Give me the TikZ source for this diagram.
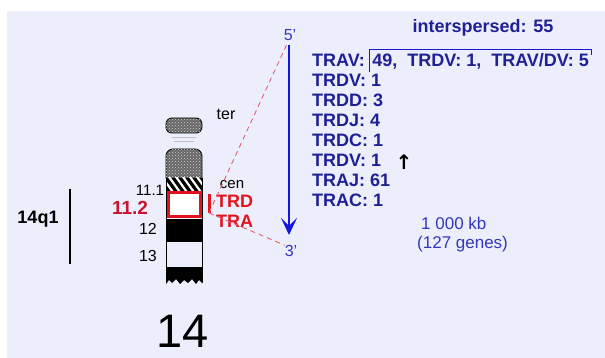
\documentclass[tikz,border=0pt]{standalone}
\usepackage{fontspec}
\setmainfont{Liberation Sans}
\newfontfamily\symfont{DejaVu Sans}
\usetikzlibrary{positioning}
\usetikzlibrary{arrows.meta}
\usetikzlibrary{patterns}

\definecolor{paper}{RGB}{236,238,251}
\definecolor{navy}{RGB}{30,32,150}
\definecolor{locusblue}{RGB}{22,22,225}
\definecolor{primeblue}{RGB}{50,55,190}
\definecolor{bandred}{RGB}{225,20,30}
\definecolor{darkred}{RGB}{200,20,50}
\definecolor{linkred}{RGB}{228,95,115}

\newcommand{\fs}[1]{\fontsize{#1}{#1}\selectfont}

\begin{document}
\begin{tikzpicture}
        [x=1pt, y=-1pt,
         every node/.style={inner sep=0pt},
         gene/.style={anchor=west, text=navy, font=\fs{18}\bfseries,
                      text height=13pt, text depth=4pt},
         prime/.style={text=primeblue, font=\fs{16}},
         band/.style={draw=black, line width=0.9pt},
         knob/.style={band, fill=black!60,
                      postaction={pattern=crosshatch dots, pattern color=black!15}},
         link/.style={dashed, linkred, line width=0.9pt, dash pattern=on 5pt off 4pt}]
        % background
        \fill [white] (0,0) rectangle (605,358);
        \fill [paper] (7,11) rectangle (605,358);
        \useasboundingbox (0,0) rectangle (605,358);

        % chromosome 14
        \draw [knob, rounded corners=6pt] (166,118) rectangle (202,133);
        \draw [black!25, line width=1pt] (172,138) -- (196,138) (174,142) -- (194,142);
        \draw [knob] (166,178) [rounded corners=7pt] -- (166,149) -- (202,149)
              [sharp corners] -- (202,178) -- cycle;
        \fill [black] (166,178) rectangle (202,191);
        \begin{scope}
            \clip (166,178) rectangle (202,191);
            \foreach \s in {-14,-7,...,42}
                \draw [white, line width=2.2pt] (160+\s,174) -- (175+\s,195);
        \end{scope}
        \fill [black] (166,219) rectangle (202,242);
        \fill [black] (166,267) -- (202,267) -- (202,283) -- (199,280) -- (196,284)
              -- (192,279) -- (188,283) -- (184,280) -- (180,284) -- (176,279)
              -- (172,283) -- (169,280) -- (166,284) -- cycle;
        \draw [band] (166,178) -- (166,283) (202,178) -- (202,283);
        \draw [bandred, line width=3pt, fill=white] (168,192.5) rectangle (200.5,217);

        % band labels
        \node [font=\fs{16}] (ter) at (226,114) {ter};
        \node [font=\fs{15}] (cen) at (232,185) {cen};
        \node [font=\fs{15}] (q111) at (150,190) {11.1};
        \node [font=\fs{19}\bfseries, text=darkred] (q112) at (130,208) {11.2};
        \node [font=\fs{16}] (q12) at (148,229) {12};
        \node [font=\fs{16}] (q13) at (148,256) {13};
        \node [font=\fs{18}\bfseries] (q1) at (38,219) {14q1};
        \draw [line width=1.2pt] (70,189) -- (70,264);
        \node [font=\fs{47}] (chr) at (183,331) {14};

        % TRA/TRD locus
        \coordinate (bartop) at (209,194);
        \coordinate (barbot) at (209,213);
        \draw [bandred, line width=3pt] (bartop) -- (barbot);
        \node [anchor=west, text=bandred, font=\fs{18}\bfseries] (trd) at (216,201) {TRD};
        \node [anchor=west, text=bandred, font=\fs{18}\bfseries] (tra) at (216,221) {TRA};

        \node [prime] (five) at (290,35) {5'};
        \node [prime] (three) at (291,251) {3'};
        \draw [link] (barbot) -- (287,44);
        \draw [link] (barbot) -- (three.north west);
        \coordinate (top) at (289,45);
        \coordinate (bot) at (289,235);
        \draw [locusblue, line width=2.2pt,
               -{Stealth[length=17pt, width=16pt, inset=8pt]}] (top) -- (bot);

        % gene counts
        \node [gene] (trav) at (312,62) {TRAV:};
        \node [gene, right=7pt of trav] (mixed) {49,~~TRDV:~1,~~TRAV/DV:~5};
        \foreach \name/\txt [count=\i] in {trdv/TRDV:~1, trdd/TRDD:~3, trdj/TRDJ:~4,
                trdc/TRDC:~1, trdvi/TRDV:~1, traj/TRAJ:~61, trac/TRAC:~1}
            \node [gene] (\name) at (312,62+20*\i) {\txt};
        \draw [locusblue!80!navy, line width=1.3pt]
            (mixed.south west) ++(-2.5,1) |- ([shift={(2.5,-4)}]mixed.north east) -- ++(0,6);
        \node [text=navy, font=\fs{18}\bfseries] (inter) at (483,28) {interspersed: 55};
        \node [font=\symfont\fs{20}\bfseries, right=14pt of trdvi] (inv) {↑};
        \node [anchor=west, text=primeblue, font=\fs{17}] (size) at (421,223) {1 000 kb};
        \node [anchor=west, text=primeblue, font=\fs{17}] (count) at (417,244) {(127 genes)};
    \end{tikzpicture}
\end{document}
